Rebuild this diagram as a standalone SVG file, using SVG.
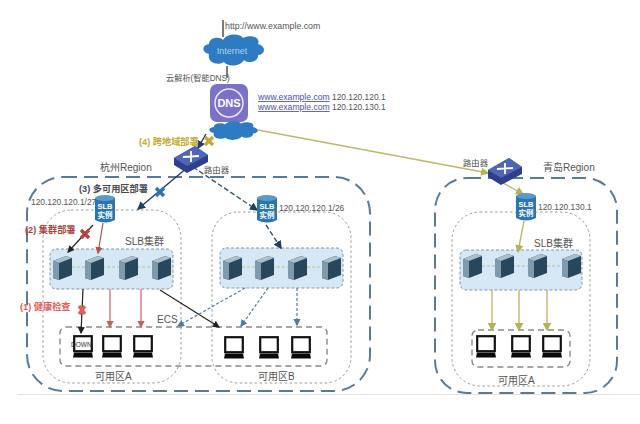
<svg xmlns="http://www.w3.org/2000/svg" xmlns:xlink="http://www.w3.org/1999/xlink" width="640" height="424" viewBox="0 0 640 424">
<style>
text{font-family:"Liberation Sans","Noto Sans CJK SC",sans-serif;font-size:8.400px;fill:#555}
.region{fill:none;stroke:#5a7a96;stroke-width:2;stroke-dasharray:14 7}
.zone{fill:none;stroke:#9a9a9a;stroke-width:1;stroke-dasharray:2.500 2.500}
.cluster{fill:#d6e8f6;stroke:#7f97ab;stroke-width:1;stroke-dasharray:3 2}
.ecs{fill:none;stroke:#8a8a8a;stroke-width:1.400;stroke-dasharray:6 4}
.link{fill:none;stroke:#9dd08a;stroke-width:1;stroke-dasharray:3 2}
.c{fill:none;stroke-width:1.200}
.nv{stroke:#1f3f5f;stroke-width:1.400}
.bk{stroke:#222}
.rd{stroke:#c9605c}
.br{stroke:#a8564e}
.yl{stroke:#bdb96a;stroke-width:1.400}
.bl{stroke:#4f7ba3;stroke-dasharray:3 2}
.dk{stroke:#33566f;stroke-width:1.400;stroke-dasharray:5 2.500}
.x{fill:none;stroke-width:3.400}
.b{font-weight:bold;font-size:9.200px}
.lg{font-size:10px}
.sl{fill:#fff;font-size:7.500px;font-weight:bold;text-anchor:middle}
.u{fill:#4d50a8;text-decoration:underline;font-size:8.600px}
</style>
<defs>
<marker id="aBk" markerWidth="6" markerHeight="6" refX="5" refY="3" orient="auto"><path d="M0 0L6 3L0 6z" fill="#222"/></marker>
<marker id="aRd" markerWidth="6" markerHeight="6" refX="5" refY="3" orient="auto"><path d="M0 0L6 3L0 6z" fill="#c9605c"/></marker>
<marker id="aBr" markerWidth="6" markerHeight="6" refX="5" refY="3" orient="auto"><path d="M0 0L6 3L0 6z" fill="#a8564e"/></marker>
<marker id="aYl" markerWidth="6" markerHeight="6" refX="5" refY="3" orient="auto"><path d="M0 0L6 3L0 6z" fill="#b5b155"/></marker>
<marker id="aBl" markerWidth="6" markerHeight="6" refX="5" refY="3" orient="auto"><path d="M0 0L6 3L0 6z" fill="#4f7ba3"/></marker>
<marker id="aNv" markerWidth="6" markerHeight="6" refX="5" refY="3" orient="auto"><path d="M0 0L6 3L0 6z" fill="#1f3f5f"/></marker>
<g id="server">
<path d="M0 5L13 0L19 2L19 19L6 24L0 22z" fill="#27475c"/>
<path d="M0 5L13 0L19 2L6 7z" fill="#a9bfca"/>
<path d="M0 5L6 7L6 24L0 22z" fill="#7f9bab"/>
</g>
<g id="laptop">
<rect x="1.200" y="1.200" width="17.600" height="15" fill="#fff" stroke="#111" stroke-width="2.200"/>
<path d="M1 17.500H19L20 22.500H0z" fill="#0a0a0a"/>
</g>
<g id="cyl">
<path d="M0 3V25Q10 30 20 25V3z" fill="#2d76ad"/>
<ellipse cx="10" cy="3" rx="10" ry="3" fill="#5b9ac8"/>
</g>
<g id="router">
<path d="M0 12L21 0L34 9L34 16L13 27L0 19z" fill="#2f3f8c"/>
<path d="M0 12L21 0L34 9L13 20z" fill="#4f66b8"/>
<path d="M9 11L25 10M17 5L17 16" stroke="#fff" stroke-width="1.800" fill="none"/>
</g>
<path id="cloud" d="M6 20C-1 19-2 11 6 10C6 3 17 2 20 6C24-1 37-1 40 4C47 0 58 3 55 10C63 12 63 20 55 21C56 28 44 30 41 26C37 33 24 33 21 28C15 32 4 29 6 20z" fill="#2e7bc4"/>
</defs>
<rect width="640" height="424" fill="#fff"/>
<path d="M17 394.500H640" stroke="#e2e2e2" fill="none"/>

<g id="region-hangzhou"><rect class="region" x="27" y="177" width="343" height="214" rx="36"/><text class="lg" x="100" y="171">杭州Region</text></g>
<g id="region-qingdao"><rect class="region" x="435" y="178" width="182" height="215" rx="32"/><text class="lg" x="543" y="171">青岛Region</text></g>
<g id="zone-hz-a"><rect class="zone" x="43" y="210" width="138" height="173" rx="28"/><text class="lg" x="95" y="380">可用区A</text></g>
<g id="zone-hz-b"><rect class="zone" x="212" y="212" width="139" height="171" rx="26"/><text class="lg" x="258" y="380">可用区B</text></g>
<g id="zone-qd-a"><rect class="zone" x="452" y="212" width="138" height="174" rx="28"/><text class="lg" x="498" y="384">可用区A</text></g>

<g id="cluster-hz-a">
<rect class="cluster" x="50" y="249" width="123" height="40" rx="6"/>
<path class="link" d="M62 267H160"/>
<use href="#server" x="53" y="256"/><use href="#server" x="85" y="256"/><use href="#server" x="119" y="256"/><use href="#server" x="152" y="256"/>
<text class="lg" x="125" y="245">SLB集群</text>
</g>
<g id="cluster-hz-b">
<rect class="cluster" x="220" y="248" width="123" height="40" rx="6"/>
<path class="link" d="M232 267H331"/>
<use href="#server" x="223" y="256"/><use href="#server" x="255" y="256"/><use href="#server" x="288" y="256"/><use href="#server" x="322" y="256"/>
</g>
<g id="cluster-qd">
<rect class="cluster" x="460" y="250" width="122" height="40" rx="6"/>
<path class="link" d="M472 266H571"/>
<use href="#server" x="463" y="254"/><use href="#server" x="495" y="254"/><use href="#server" x="528" y="254"/><use href="#server" x="562" y="254"/>
<text class="lg" x="534" y="247">SLB集群</text>
</g>
<g id="ecs-hz"><rect class="ecs" x="60" y="327" width="267" height="39" rx="6"/><text class="lg" x="157" y="323">ECS</text></g>
<g id="ecs-qd"><rect class="ecs" x="472" y="330" width="98" height="37" rx="6"/></g>

<g id="connectors">
<path class="c bk" d="M223 20V37"/>
<path class="c bk" d="M227 66V78"/>
<path class="c nv" d="M206 134L198 148" marker-end="url(#aNv)"/>
<path class="c yl" d="M258 130L488 173" marker-end="url(#aYl)"/>
<path class="c nv" d="M188 167L138 209" marker-end="url(#aNv)"/>
<path class="c dk" d="M193 167L257 210" marker-end="url(#aNv)"/>
<path class="c bk" d="M93 225L68 252" marker-end="url(#aBk)"/>
<path class="c br" d="M103 223L98 253" marker-end="url(#aBr)"/>
<path class="c dk" d="M266 225L281 248" marker-end="url(#aNv)"/>
<path class="c bk" d="M83 289L81 333" marker-end="url(#aBk)"/>
<path class="c rd" d="M110 289V327" marker-end="url(#aRd)"/>
<path class="c rd" d="M141 289V327" marker-end="url(#aRd)"/>
<path class="c bk" d="M160 290L219 327" marker-end="url(#aBk)"/>
<path class="c bl" d="M245 288L178 326" marker-end="url(#aBl)"/>
<path class="c bl" d="M268 288L241 326" marker-end="url(#aBl)"/>
<path class="c bl" d="M297 288V325" marker-end="url(#aBl)"/>
<path class="c yl" d="M503 183L523 194" marker-end="url(#aYl)"/>
<path class="c yl" d="M524 221L518 252" marker-end="url(#aYl)"/>
<path class="c yl" d="M492 290V330" marker-end="url(#aYl)"/>
<path class="c yl" d="M519 290V330" marker-end="url(#aYl)"/>
<path class="c yl" d="M547 290V330" marker-end="url(#aYl)"/>
<path class="x" stroke="#c4a935" d="M205 137L213 145M213 137L205 145"/>
<path class="x" stroke="#3273b5" d="M156 188L164 196M164 188L156 196"/>
<path class="x" stroke="#b8413c" d="M81 230L89 238M89 230L81 238"/>
<path class="x" stroke="#e0605a" d="M79 306L85 314M85 306L79 314"/>
</g>

<g id="internet"><use href="#cloud" transform="translate(203 34)"/><text x="232" y="54" text-anchor="middle" style="fill:#a9d3ef;font-size:9px">Internet</text><text x="225" y="29" style="font-size:8.800px">http://www.example.com</text></g>
<g id="dns">
<rect x="210" y="84" width="38" height="38" rx="7" fill="#7b72c8"/>
<circle cx="229" cy="103" r="14" fill="none" stroke="#e8e6f6" stroke-width="1.500"/>
<text x="229" y="107" text-anchor="middle" style="fill:#fff;font-size:11px;font-weight:bold">DNS</text>
<text x="166" y="81" style="font-size:8.200px">云解析(智能DNS)</text>
<text class="u" x="258" y="100">www.example.com</text><text x="332" y="100">120.120.120.1</text>
<text class="u" x="258" y="110">www.example.com</text><text x="332" y="110">120.120.130.1</text>
</g>
<g id="dns-cloud"><use href="#cloud" transform="translate(209 121) scale(.8 .6)"/></g>
<g id="router-hz"><use href="#router" x="174" y="146"/><text x="204" y="173">路由器</text></g>
<g id="router-qd"><use href="#router" x="488" y="158"/><text x="463" y="166">路由器</text></g>
<g id="slb-a"><use href="#cyl" x="95" y="195"/><text class="sl" x="105" y="209">SLB</text><text class="sl" x="105" y="218">实例</text><text x="31" y="205">120.120.120.1/27</text></g>
<g id="slb-b"><use href="#cyl" x="257" y="195"/><text class="sl" x="267" y="209">SLB</text><text class="sl" x="267" y="218">实例</text><text x="279" y="211">120.120.120.1/26</text></g>
<g id="slb-qd"><use href="#cyl" x="516" y="193"/><text class="sl" x="526" y="207">SLB</text><text class="sl" x="526" y="216">实例</text><text x="538" y="210">120.120.130.1</text></g>

<g id="laptops-hz-a"><use href="#laptop" x="73" y="335"/><use href="#laptop" x="102" y="335"/><use href="#laptop" x="133" y="335"/><text x="71" y="347" style="font-size:6.500px;fill:#333">DOWN</text></g>
<g id="laptops-hz-b"><use href="#laptop" x="224" y="336"/><use href="#laptop" x="259" y="336"/><use href="#laptop" x="291" y="336"/></g>
<g id="laptops-qd"><use href="#laptop" x="476" y="335"/><use href="#laptop" x="511" y="335"/><use href="#laptop" x="542" y="335"/></g>

<g id="labels">
<text class="b" x="139" y="145" style="fill:#c4a935">(4) 跨地域部署</text>
<text class="b" x="79" y="192" style="fill:#4a4a4a">(3) 多可用区部署</text>
<text class="b" x="25" y="233" style="fill:#a8443e">(2) 集群部署</text>
<text class="b" x="20" y="310" style="fill:#e0605a">(1) 健康检查</text>
</g>
</svg>
